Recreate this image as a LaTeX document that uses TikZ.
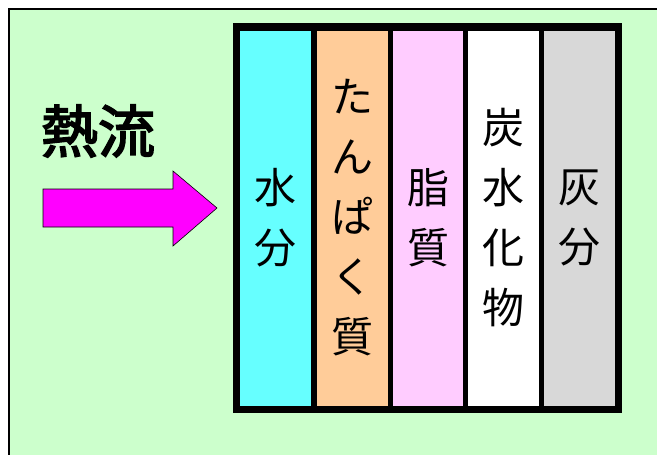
\documentclass[tikz,border=0pt]{standalone}
\usepackage{fontspec}
\newfontfamily\cjk[AutoFakeBold=3]{Noto Sans CJK JP}
\definecolor{bggreen}{HTML}{CCFFCC}
\definecolor{cwater}{HTML}{66FFFF}
\definecolor{cprot}{HTML}{FFCC99}
\definecolor{cfat}{HTML}{FFCCFF}
\definecolor{cash}{HTML}{D8D8D8}
\definecolor{cmag}{HTML}{FF00FF}
\begin{document}
\begin{tikzpicture}[x=1pt,y=-1pt,
  colbox/.style={draw=black,line width=5pt,minimum width=76pt,minimum height=380pt,
    inner sep=0pt,align=center,font=\cjk\fontsize{42}{60}\selectfont},
  title/.style={font=\cjk\bfseries\fontsize{57}{60}\selectfont,inner sep=0pt}]
\useasboundingbox (0,0) rectangle (657,455);
\fill[bggreen] (9,9) rectangle (670,470);
\draw[line width=2pt] (670,9) -- (9,9) -- (9,470);
\node[colbox,fill=cwater] (c1) at (275.5,218) {水\\分};
\node[colbox,fill=cprot] (c2) at (352,218) {た\\ん\\ぱ\\く\\質};
\node[colbox,fill=cfat] (c3) at (428,218) {脂\\質};
\node[colbox,fill=white] (c4) at (503.5,218) {炭\\水\\化\\物};
\node[colbox,fill=cash] (c5) at (579,218) {灰\\分};
\draw[line width=5pt] (c1.north west) rectangle (c5.south east);
\node[title] (t) at (98,131) {熱流};
\draw[fill=cmag,line width=0.6pt,line join=miter] (43,189) -- (173,189) -- (173,171) -- (217,208) -- (173,246) -- (173,227) -- (43,227) -- cycle;
\end{tikzpicture}
\end{document}
